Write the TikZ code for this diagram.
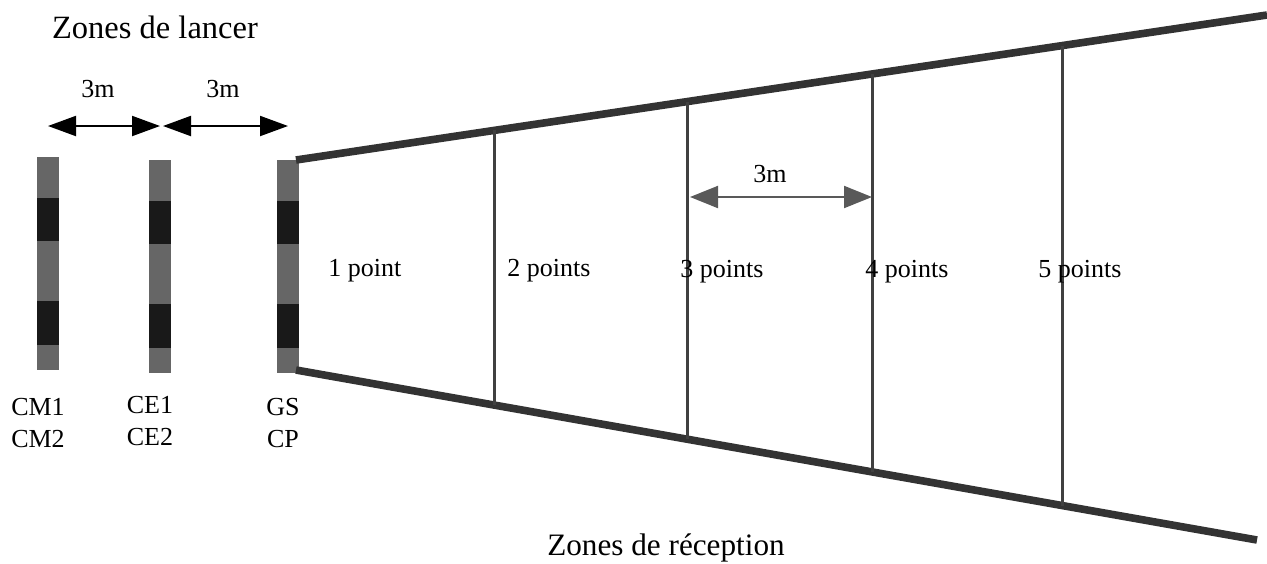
\documentclass[tikz,border=0pt]{standalone}
\usepackage{fontspec}
\setmainfont{Liberation Serif}
\usetikzlibrary{arrows.meta,positioning}

\begin{document}
\begin{tikzpicture}[
    x=0.5pt, y=-0.5pt,
    lbl/.style={font=\fontsize{13}{15}\selectfont,inner sep=0pt},
    dim/.style={<->,>={Triangle[length=14pt,width=10pt]},line width=1pt},
    rail/.style={line width=3.8pt,black!80},
    sep/.style={line width=1.5pt,black!75},
  ]
  \useasboundingbox (0,0) rectangle (1267,563);

  \node[lbl,font=\fontsize{16.25}{18}\selectfont] (lancer) at (155,27) {Zones de lancer};

  % throwing bars, light and dark stripes
  \foreach \name/\x/\y in {cm/37/157, ce/149/160, gs/277/160} {
    \fill[black!60] (\x,\y) rectangle ++(22,213);
    \fill[black!90] (\x,\y+41) rectangle ++(22,43);
    \fill[black!90] (\x,\y+144) rectangle ++(22,44);
    \coordinate (\name) at (\x+11,\y);
  }

  \coordinate (a0) at (48,126);
  \coordinate (a1) at (160,126);
  \coordinate (a2) at (163,126);
  \coordinate (a3) at (288,126);
  \draw[dim] (a0) -- (a1);
  \draw[dim] (a2) -- (a3);
  \node[lbl,anchor=base] (d1) at (98,97) {3m};
  \node[lbl,anchor=base] (d2) at (223,97) {3m};

  \node[lbl,anchor=base] (cm1) at (38,415) {CM1};
  \node[lbl,anchor=base] (cm2) at (38,447) {CM2};
  \node[lbl,anchor=base] (ce1) at (150,413) {CE1};
  \node[lbl,anchor=base] (ce2) at (150,445) {CE2};
  \node[lbl,anchor=base] (gs1) at (283,415) {GS};
  \node[lbl,anchor=base] (cp1) at (283,447) {CP};

  % landing zone
  \coordinate (tl) at (296,160);
  \coordinate (tr) at (1267,15);
  \coordinate (bl) at (296,370);
  \coordinate (br) at (1257,540);
  \draw[rail] (tl) -- (tr);
  \draw[rail] (bl) -- (br);

  \foreach \i/\x/\yt/\yb in {1/494/130.4/405, 2/687/101.6/439.2, 3/872/74/471.9, 4/1062/45.6/505.5} {
    \coordinate (t\i) at (\x,\yt);
    \coordinate (b\i) at (\x,\yb);
    \draw[sep] (t\i) -- (b\i);
  }

  \coordinate (z0) at (690,197);
  \coordinate (z1) at (872,197);
  \draw[dim,black!65,>={Triangle[length=14pt,width=11pt]}] (z0) -- (z1);
  \node[lbl,anchor=base] (d3) at (770,182) {3m};

  \node[lbl,anchor=base west] (p1) at (328,276) {1 point};
  \node[lbl,anchor=base west] (p2) at (507,276) {2 points};
  \node[lbl,anchor=base west] (p3) at (680,277) {3 points};
  \node[lbl,anchor=base west] (p4) at (865,277) {4 points};
  \node[lbl,anchor=base west] (p5) at (1038,277) {5 points};

  \node[lbl,font=\fontsize{15.6}{18}\selectfont,anchor=base] (recep) at (666,555) {Zones de réception};
\end{tikzpicture}
\end{document}
